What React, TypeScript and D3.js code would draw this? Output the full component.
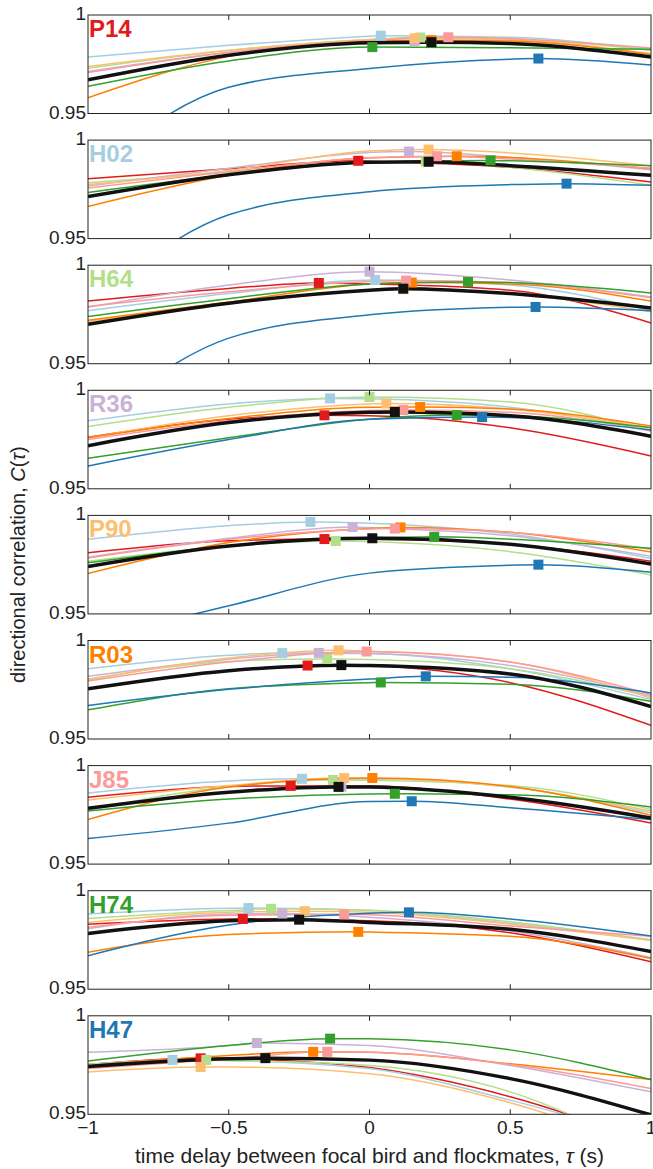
import React from "react";
import * as d3 from "d3";

// focal birds, one panel each, and their colours (ColorBrewer Paired)
const birds = ["P14", "H02", "H64", "R36", "P90", "R03", "J85", "H74", "H47"];
const birdColors = ["#e31a1c", "#a6cee3", "#b2df8a", "#cab2d6", "#fdbf6f", "#ff7f00", "#fb9a99", "#33a02c", "#1f78b4"];

// C(tau) is read at these delays
const tauGrid = [-1, -0.5, 0, 0.5, 1];
const xTicks = [-1, -0.5, 0, 0.5, 1];

// per focal bird: one curve per flockmate (bird order, null = itself), its peak, and the mean
const curvesP14 = [null,
  [0.9787, 0.9846, 0.9892, 0.9887, 0.9821], [0.973, 0.982, 0.9876, 0.988, 0.9821], [0.9713, 0.9811, 0.9867, 0.9858, 0.9787],
  [0.9738, 0.9821, 0.9874, 0.9874, 0.9804], [0.958, 0.979, 0.9865, 0.9868, 0.98], [0.9708, 0.981, 0.987, 0.988, 0.9833],
  [0.9638, 0.9767, 0.9835, 0.9834, 0.9826], [0.92, 0.9633, 0.9729, 0.9776, 0.9746]];
const peaksP14 = [null, [0.04, 0.9895], [0.18, 0.9886], [0.16, 0.9866], [0.16, 0.9882], [0.22, 0.9872], [0.28, 0.9887], [0.01, 0.9837], [0.6, 0.9779]];
const meanP14 = [0.9671, 0.9796, 0.9859, 0.9855, 0.9787];
const meanPeakP14 = [0.22, 0.9862];

const curvesH02 = [
  [0.9804, 0.9854, 0.9893, 0.9862, 0.9787], null, [0.9784, 0.9837, 0.9888, 0.9862, 0.9771], [0.9767, 0.9857, 0.9937, 0.9912, 0.985],
  [0.9774, 0.9846, 0.9945, 0.9935, 0.987], [0.9663, 0.9821, 0.991, 0.9912, 0.9854], [0.9757, 0.984, 0.991, 0.9904, 0.9857],
  [0.9734, 0.9824, 0.9888, 0.9895, 0.987], [0.916, 0.9621, 0.9738, 0.9774, 0.9771]];
const peaksH02 = [[-0.04, 0.9895], null, [0.2, 0.9892], [0.14, 0.9942], [0.21, 0.9952], [0.31, 0.9918], [0.24, 0.9918], [0.43, 0.9897], [0.7, 0.9779]];
const meanH02 = [0.9713, 0.9824, 0.9887, 0.987, 0.9821];
const meanPeakH02 = [0.21, 0.989];

const curvesH64 = [
  [0.9818, 0.9882, 0.9905, 0.9873, 0.9707], [0.9769, 0.9856, 0.9922, 0.9899, 0.9769], null, [0.9786, 0.9899, 0.9965, 0.9925, 0.9839],
  [0.9714, 0.9807, 0.9873, 0.9856, 0.9764], [0.972, 0.9813, 0.9905, 0.9905, 0.9818], [0.979, 0.9865, 0.9917, 0.9911, 0.9835],
  [0.974, 0.983, 0.9905, 0.9912, 0.9859], [0.918, 0.963, 0.9748, 0.9786, 0.9769]];
const peaksH64 = [[-0.18, 0.991], [0.02, 0.9925], null, [0.0, 0.9967], [0.12, 0.9878], [0.15, 0.9912], [0.13, 0.9922], [0.35, 0.9915], [0.59, 0.9788]];
const meanH64 = [0.97, 0.9807, 0.9873, 0.9856, 0.9783];
const meanPeakH64 = [0.12, 0.9881];

const curvesR36 = [
  [0.9762, 0.9853, 0.9871, 0.981, 0.9667], [0.9845, 0.9931, 0.9957, 0.9914, 0.9798], [0.9816, 0.9914, 0.9965, 0.994, 0.9793], null,
  [0.9759, 0.9871, 0.9931, 0.9905, 0.981], [0.9759, 0.9857, 0.9914, 0.9905, 0.9819], [0.975, 0.9845, 0.9897, 0.9888, 0.9793],
  [0.9655, 0.9759, 0.9853, 0.9871, 0.981], [0.9616, 0.975, 0.9853, 0.9862, 0.9798]];
const peaksR36 = [[-0.16, 0.9873], [-0.14, 0.9959], [0.0, 0.9966], null, [0.06, 0.9933], [0.18, 0.9915], [0.12, 0.99], [0.31, 0.9874], [0.4, 0.9864]];
const meanR36 = [0.9719, 0.9836, 0.9888, 0.9871, 0.9767];
const meanPeakR36 = [0.09, 0.989];

const curvesP90 = [
  [0.981, 0.9871, 0.9879, 0.9853, 0.9767], [0.9879, 0.9948, 0.996, 0.9905, 0.9781], [0.9767, 0.9845, 0.9867, 0.9816, 0.9698],
  [0.9788, 0.9884, 0.9938, 0.9897, 0.9793], null, [0.9705, 0.9862, 0.9934, 0.9914, 0.9814], [0.9784, 0.9879, 0.9931, 0.9914, 0.9828],
  [0.9759, 0.9845, 0.9888, 0.9879, 0.9833], [0.937, 0.9541, 0.9707, 0.9747, 0.9712]];
const peaksP90 = [[-0.16, 0.988], [-0.21, 0.9967], [-0.12, 0.987], [-0.06, 0.9941], null, [0.11, 0.9939], [0.09, 0.9933], [0.23, 0.9891], [0.6, 0.975]];
const meanP90 = [0.9741, 0.9845, 0.9883, 0.9853, 0.9753];
const meanPeakP90 = [0.01, 0.9884];

const curvesR03 = [
  [0.9755, 0.9847, 0.987, 0.9786, 0.9569], [0.9856, 0.9925, 0.9934, 0.9856, 0.97], [0.9804, 0.9894, 0.9903, 0.9856, 0.9714],
  [0.9818, 0.9905, 0.9934, 0.9873, 0.972], [0.98, 0.9911, 0.9946, 0.9891, 0.9708], null, [0.9795, 0.9891, 0.9943, 0.9891, 0.9726],
  [0.9648, 0.9755, 0.9786, 0.9778, 0.9691], [0.967, 0.9752, 0.9804, 0.9813, 0.9734]];
const peaksR03 = [[-0.22, 0.9873], [-0.31, 0.9936], [-0.15, 0.9906], [-0.18, 0.9937], [-0.11, 0.995], null, [-0.01, 0.9944], [0.04, 0.9787], [0.2, 0.9818]];
const meanR03 = [0.9755, 0.9847, 0.9873, 0.983, 0.9665];
const meanPeakR03 = [-0.1, 0.9875];

const curvesJ85 = [
  [0.9839, 0.9894, 0.9896, 0.983, 0.9708], [0.9861, 0.9922, 0.9932, 0.9891, 0.976], [0.9773, 0.9894, 0.9925, 0.9899, 0.9778],
  [0.9778, 0.9865, 0.9891, 0.9839, 0.9731], [0.9825, 0.9899, 0.9936, 0.9891, 0.9769], [0.9726, 0.9891, 0.9936, 0.9894, 0.9748], null,
  [0.9769, 0.983, 0.9856, 0.9852, 0.979], [0.963, 0.9708, 0.9818, 0.9786, 0.9726]];
const peaksJ85 = [[-0.28, 0.9897], [-0.24, 0.9933], [-0.13, 0.9927], [-0.1, 0.9893], [-0.09, 0.9937], [0.01, 0.9937], null, [0.09, 0.9857], [0.15, 0.9819]];
const meanJ85 = [0.9783, 0.9865, 0.9891, 0.9839, 0.9734];
const meanPeakJ85 = [-0.11, 0.9892];

const curvesH74 = [
  [0.983, 0.9856, 0.9847, 0.9786, 0.9639], [0.9882, 0.9911, 0.9899, 0.9835, 0.9752], [0.9859, 0.9899, 0.9901, 0.9842, 0.9747],
  [0.9807, 0.9882, 0.9865, 0.9795, 0.9661], [0.9839, 0.9891, 0.9891, 0.983, 0.9748], [0.9688, 0.9778, 0.979, 0.9769, 0.9656],
  [0.9814, 0.9875, 0.9878, 0.9821, 0.9769], null, [0.967, 0.9826, 0.9885, 0.9856, 0.977]];
const peaksH74 = [[-0.45, 0.9857], [-0.43, 0.9912], [-0.35, 0.9908], [-0.31, 0.9884], [-0.23, 0.9896], [-0.04, 0.9791], [-0.09, 0.988], null, [0.14, 0.989]];
const meanH74 = [0.9783, 0.9847, 0.9839, 0.9804, 0.9691];
const meanPeakH74 = [-0.25, 0.9853];

const curvesH47 = [
  [0.9753, 0.9782, 0.9737, 0.9589, 0.935], [0.9753, 0.9773, 0.9732, 0.9572, 0.937], [0.9753, 0.9773, 0.9748, 0.9614, 0.93],
  [0.9815, 0.9849, 0.9849, 0.9748, 0.9614], [0.9715, 0.974, 0.9706, 0.9559, 0.931], [0.9748, 0.9799, 0.9815, 0.9757, 0.9676],
  [0.9732, 0.9782, 0.9815, 0.9753, 0.9631], [0.977, 0.9849, 0.9883, 0.9827, 0.9676], null];
const peaksH47 = [[-0.6, 0.9784], [-0.7, 0.9776], [-0.58, 0.9776], [-0.4, 0.9862], [-0.6, 0.974], [-0.2, 0.9817], [-0.15, 0.9817], [-0.14, 0.9884], null];
const meanH47 = [0.9743, 0.9782, 0.9775, 0.9681, 0.9497];
const meanPeakH47 = [-0.37, 0.9785];

const panelCurves = [curvesP14, curvesH02, curvesH64, curvesR36, curvesP90, curvesR03, curvesJ85, curvesH74, curvesH47];
const panelPeaks = [peaksP14, peaksH02, peaksH64, peaksR36, peaksP90, peaksR03, peaksJ85, peaksH74, peaksH47];
const panelMeans = [meanP14, meanH02, meanH64, meanR36, meanP90, meanR03, meanJ85, meanH74, meanH47];
const panelMeanPeaks = [meanPeakP14, meanPeakH02, meanPeakH64, meanPeakR36, meanPeakP90, meanPeakR03, meanPeakJ85, meanPeakH74, meanPeakH47];

const W = 653, H = 1169;
const left = 88, right = 651;
const top0 = 15, step = 125.1, panelH = 98.5;
const font = "'Liberation Sans', Arial, Helvetica, sans-serif";

// grid values plus the peak, so the line passes through its marker
function curvePoints(vals, peak) {
  const pts = tauGrid.map((t, i) => [t, vals[i]]).filter(p => Math.abs(p[0] - peak[0]) > 0.02);
  pts.push(peak);
  return pts.sort((a, b) => a[0] - b[0]);
}

function Panel({ idx }) {
  const top = top0 + idx * step;
  const x = d3.scaleLinear().domain([-1, 1]).range([left, right]);
  const y = d3.scaleLinear().domain([0.95, 1]).range([top + panelH, top]);
  const line = d3.line().x(d => x(d[0])).y(d => y(d[1])).curve(d3.curveMonotoneX);
  const curves = panelCurves[idx];
  const peaks = panelPeaks[idx];
  const clipId = "clip" + idx;
  const ms = 10;
  return (
    <g>
      <defs>
        <clipPath id={clipId}>
          <rect x={left} y={top} width={right - left} height={panelH} />
        </clipPath>
      </defs>
      <g clipPath={`url(#${clipId})`}>
        {curves.map((c, i) => c && (
          <path key={i} d={line(curvePoints(c, peaks[i]))} fill="none" stroke={birdColors[i]} strokeWidth={1.5} />
        ))}
        <path d={line(curvePoints(panelMeans[idx], panelMeanPeaks[idx]))} fill="none" stroke="#111" strokeWidth={3.5} />
        {peaks.map((p, i) => p && (
          <rect key={i} x={x(p[0]) - ms / 2} y={y(p[1]) - ms / 2} width={ms} height={ms} fill={birdColors[i]} />
        ))}
        <rect x={x(panelMeanPeaks[idx][0]) - ms / 2} y={y(panelMeanPeaks[idx][1]) - ms / 2} width={ms} height={ms} fill="#111" />
      </g>
      <rect x={left} y={top} width={right - left} height={panelH} fill="none" stroke="#222" strokeWidth={1} />
      {xTicks.slice(1, -1).map(t => (
        <g key={t}>
          <line x1={x(t)} x2={x(t)} y1={top} y2={top + 5} stroke="#222" />
          <line x1={x(t)} x2={x(t)} y1={top + panelH} y2={top + panelH - 5} stroke="#222" />
        </g>
      ))}
      <text x={left + 1} y={top + 22} fontFamily={font} fontWeight="bold" fontSize={24} fill={birdColors[idx]}>{birds[idx]}</text>
      <text x={left - 2} y={y(1)} textAnchor="end" dominantBaseline="middle" fontFamily={font} fontSize={19} fill="#222">1</text>
      <text x={left - 2} y={y(0.95)} textAnchor="end" dominantBaseline="middle" fontFamily={font} fontSize={19} fill="#222">0.95</text>
    </g>
  );
}

export default function App() {
  const x = d3.scaleLinear().domain([-1, 1]).range([left, right]);
  const bottom = top0 + 8 * step + panelH;
  const fmt = t => (t < 0 ? "\u2212" : "") + String(Math.abs(t));
  return (
    <svg width={W} height={H} style={{ position: "absolute", left: 0, top: 0, background: "#fff" }}>
      {birds.map((b, i) => <Panel key={b} idx={i} />)}
      {xTicks.map(t => (
        <text key={t} x={x(t)} y={bottom + 15} textAnchor="middle" dominantBaseline="middle" fontFamily={font} fontSize={19} fill="#222">{fmt(t)}</text>
      ))}
      <text x={(left + right) / 2} y={H - 6} textAnchor="middle" fontFamily={font} fontSize={21} fill="#222">
        time delay between focal bird and flockmates, <tspan fontStyle="italic">τ</tspan> (s)
      </text>
      <text transform={`translate(20,${(top0 + bottom) / 2}) rotate(-90)`} textAnchor="middle" dominantBaseline="middle" fontFamily={font} fontSize={20} fill="#222">
        directional correlation, <tspan fontStyle="italic">C</tspan>(<tspan fontStyle="italic">τ</tspan>)
      </text>
    </svg>
  );
}
